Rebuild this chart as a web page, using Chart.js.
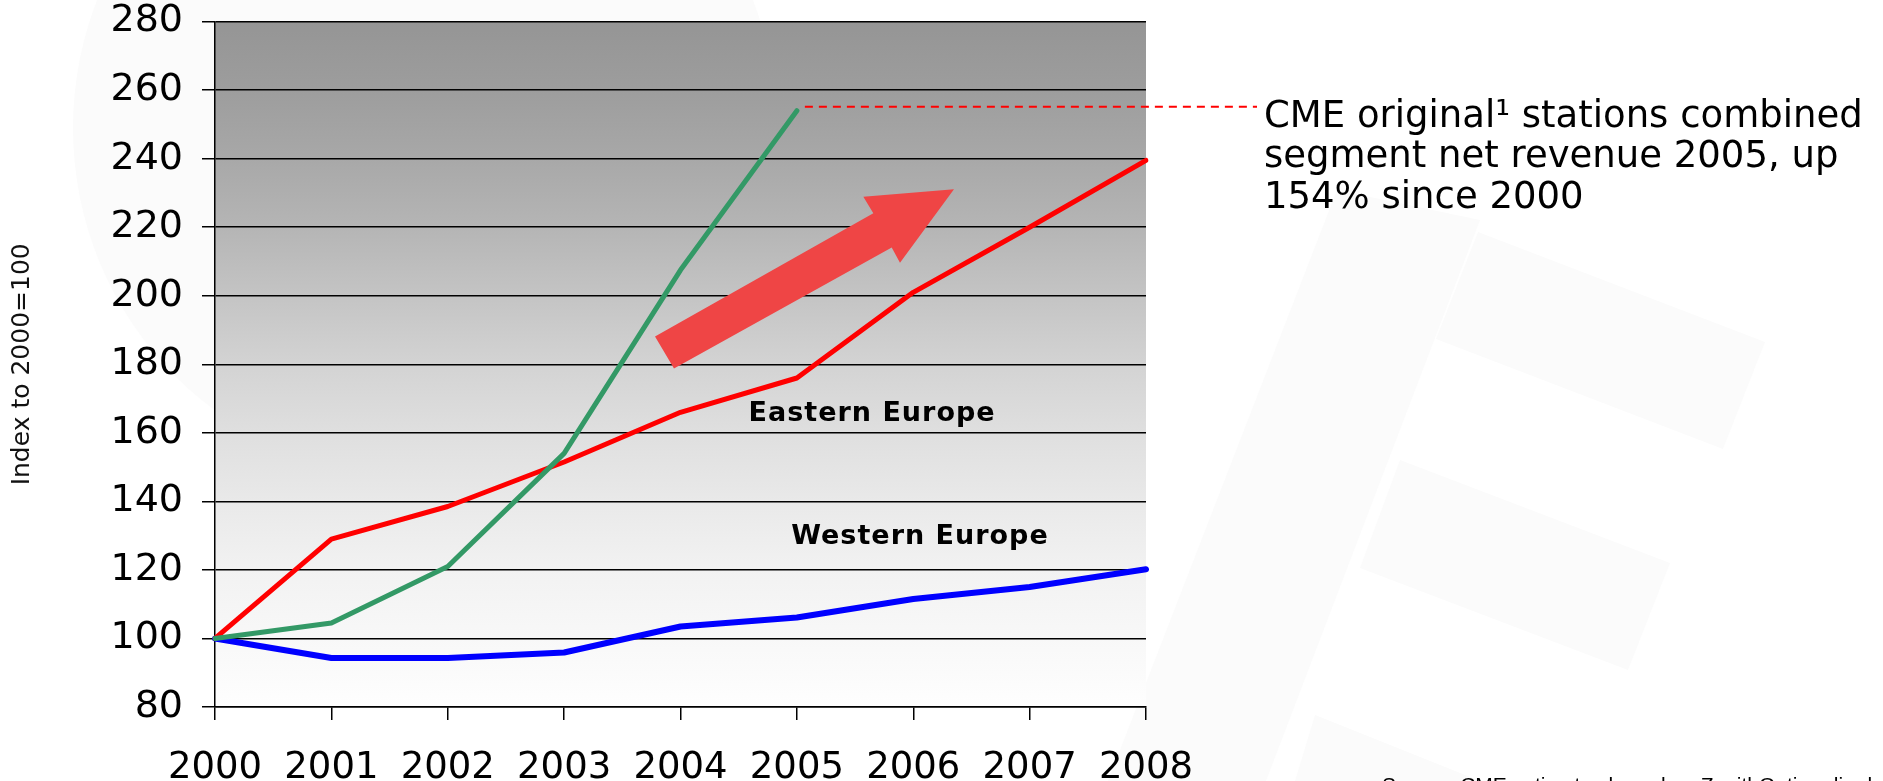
<!DOCTYPE html>
<html>
<head>
<meta charset="utf-8">
<script src="https://cdn.jsdelivr.net/npm/chart.js@4.4.1/dist/chart.umd.min.js"></script>
<style>
  html, body { margin: 0; padding: 0; background: #ffffff; overflow: hidden; }
  #wrap { position: relative; width: 1883px; height: 781px; }
</style>
</head>
<body>
<div id="wrap"><canvas id="c" width="1883" height="781"></canvas></div>
<script>
// Years on the horizontal axis
const years = ['2000', '2001', '2002', '2003', '2004', '2005', '2006', '2007', '2008'];

// Index values, 2000 = 100
const cmeStations   = [100, 104.5, 121, 154, 207.5, 254, null, null, null];
const easternEurope = [100, 129, 138.5, 151.5, 166, 176, 201, 220, 239.5];
const westernEurope = [100, 94.3, 94.3, 95.9, 103.5, 106.1, 111.5, 115, 120.2];

// Value axis range
const yMin = 80;
const yMax = 280;
const yStep = 20;

// Text
const yTitle = 'Index to 2000=100';
const calloutLines = ['CME original\u00B9 stations combined', 'segment net revenue 2005, up', '154% since 2000'];
const sourceNote = 'Source: CME estimates based on ZenithOptimedia data';
const seriesLabels = [
  { text: 'Eastern Europe', x: 5.646, y: 163.4 },
  { text: 'Western Europe', x: 6.058, y: 127.6 }
];

// Growth arrow outline in chart units (year index, index value)
const arrowX = [3.781, 5.657, 5.571, 6.350, 5.886, 5.815, 3.944];
const arrowY = [188.1, 224.1, 228.9, 231.1, 209.6, 214.1, 178.8];

// Plot background shading by value
const shadeValues = [280, 260, 240, 220, 200, 180, 160, 140, 120, 100, 80];
const shadeColors = ['#959595', '#9d9d9d', '#a8a8a8', '#b5b5b5', '#c4c4c4', '#d3d3d3',
                     '#dfdfdf', '#e9e9e9', '#f2f2f2', '#f8f8f8', '#fefefe'];

Chart.defaults.font.family = "'DejaVu Sans', Verdana, sans-serif";

const decor = {
  id: 'decor',
  beforeDraw(chart) {
    const { ctx, chartArea: a, scales: { y } } = chart;
    ctx.save();
    ctx.fillStyle = '#ffffff';
    ctx.fillRect(0, 0, chart.width, chart.height);

    // faint watermark logo behind the slide
    ctx.fillStyle = '#fbfbfb';
    ctx.beginPath();
    ctx.arc(425, 128, 352, 0, Math.PI * 2);
    ctx.fill();
    const shapes = [
      [[1337, 190], [1480, 220], [1266, 781], [1108, 781]],
      [[1478, 232], [1765, 342], [1723, 449], [1436, 339]],
      [[1400, 460], [1670, 563], [1628, 670], [1360, 568]],
      [[1315, 715], [1480, 781], [1295, 781]]
    ];
    shapes.forEach(pts => {
      ctx.beginPath();
      pts.forEach((p, i) => i ? ctx.lineTo(p[0], p[1]) : ctx.moveTo(p[0], p[1]));
      ctx.closePath();
      ctx.fill();
    });

    // plot area gradient
    const g = ctx.createLinearGradient(0, a.top, 0, a.bottom);
    shadeValues.forEach((v, i) => {
      const t = (y.getPixelForValue(v) - a.top) / (a.bottom - a.top);
      g.addColorStop(Math.min(1, Math.max(0, t)), shadeColors[i]);
    });
    ctx.fillStyle = g;
    ctx.fillRect(a.left, a.top, a.right - a.left, a.bottom - a.top);
    ctx.restore();
  },
  beforeDatasetsDraw(chart) {
    const { ctx, scales: { x, y } } = chart;
    ctx.save();
    ctx.fillStyle = '#ef4545';
    ctx.beginPath();
    arrowX.forEach((xv, i) => {
      const px = x.getPixelForValue(xv);
      const py = y.getPixelForValue(arrowY[i]);
      i ? ctx.lineTo(px, py) : ctx.moveTo(px, py);
    });
    ctx.closePath();
    ctx.fill();
    ctx.restore();
  },
  afterDatasetsDraw(chart) {
    const { ctx, scales: { x, y } } = chart;
    ctx.save();
    ctx.fillStyle = '#000000';
    ctx.font = "bold 27px 'DejaVu Sans'";
    ctx.letterSpacing = '1px';
    ctx.textAlign = 'center';
    ctx.textBaseline = 'alphabetic';
    seriesLabels.forEach(l => {
      ctx.fillText(l.text, x.getPixelForValue(l.x), y.getPixelForValue(l.y));
    });
    ctx.restore();
  },
  afterDraw(chart) {
    const { ctx, chartArea: a, scales: { x, y } } = chart;
    ctx.save();
    // leader line from the 2005 value to the callout
    const px = x.getPixelForValue(5);
    const py = y.getPixelForValue(cmeStations[5]) - 4;
    ctx.strokeStyle = '#ff0000';
    ctx.lineWidth = 2;
    ctx.setLineDash([8, 6]);
    ctx.beginPath();
    ctx.moveTo(px + 8, py);
    ctx.lineTo(a.right + 111, py);
    ctx.stroke();
    ctx.setLineDash([]);

    ctx.fillStyle = '#000000';
    ctx.font = "37px 'DejaVu Sans'";
    ctx.textAlign = 'left';
    ctx.textBaseline = 'alphabetic';
    calloutLines.forEach((t, i) => {
      ctx.fillText(t, a.right + 118, py + 20 + i * 40.5);
    });

    ctx.font = "21px 'Liberation Sans'";
    ctx.fillText(sourceNote, 1382, 792);
    ctx.restore();
  }
};

new Chart(document.getElementById('c'), {
  type: 'line',
  data: {
    labels: years,
    datasets: [
      { label: 'CME original stations', data: cmeStations, borderColor: '#339966', borderWidth: 5 },
      { label: 'Eastern Europe', data: easternEurope, borderColor: '#ff0000', borderWidth: 5 },
      { label: 'Western Europe', data: westernEurope, borderColor: '#0000ff', borderWidth: 6 }
    ]
  },
  options: {
    responsive: false,
    animation: false,
    devicePixelRatio: 1,
    events: [],
    elements: {
      point: { radius: 0 },
      line: { tension: 0, borderCapStyle: 'round', borderJoinStyle: 'round', fill: false }
    },
    layout: { padding: { top: 21.6, right: 737, bottom: 0, left: 0 } },
    plugins: { legend: { display: false }, tooltip: { enabled: false }, title: { display: false } },
    scales: {
      x: {
        type: 'category',
        offset: false,
        afterFit(s) { s.height = 74; },
        grid: { drawOnChartArea: false, drawTicks: true, tickLength: 13, color: '#000000', lineWidth: 1.5 },
        border: { display: true, color: '#000000', width: 1.5 },
        ticks: { color: '#000000', font: { size: 37 }, padding: 26, autoSkip: false, maxRotation: 0 }
      },
      y: {
        min: yMin,
        max: yMax,
        afterFit(s) { s.width = 215; },
        grid: { color: '#000000', lineWidth: 1.5, drawTicks: true, tickLength: 13 },
        border: { display: true, color: '#000000', width: 1.5 },
        ticks: { stepSize: yStep, color: '#000000', font: { size: 38, lineHeight: 0.1 }, padding: 19 },
        title: { display: true, text: yTitle, color: '#111111', font: { size: 25 }, padding: { top: 7, bottom: 0 } }
      }
    }
  },
  plugins: [decor]
});
</script>
</body>
</html>
